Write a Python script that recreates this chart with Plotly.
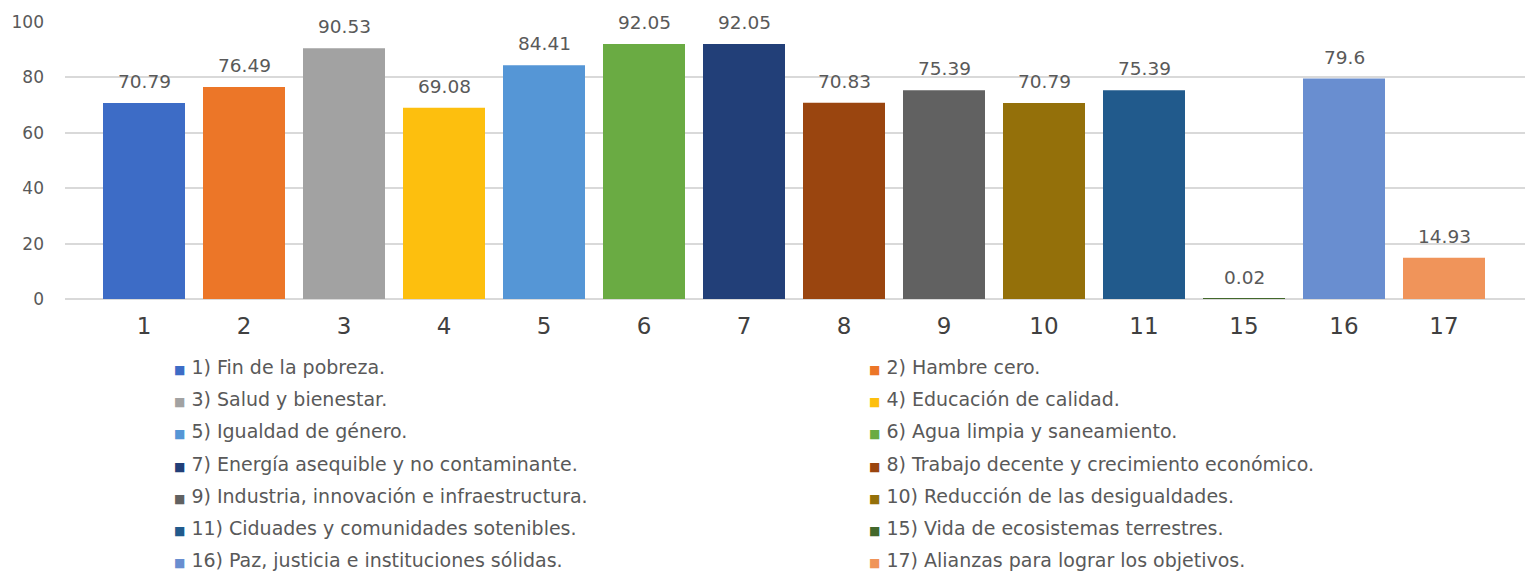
import plotly.graph_objects as go

categories = ["1", "2", "3", "4", "5", "6", "7", "8", "9", "10", "11", "15", "16", "17"]
values = [70.79, 76.49, 90.53, 69.08, 84.41, 92.05, 92.05, 70.83, 75.39, 70.79, 75.39, 0.02, 79.6, 14.93]
legend_labels = [
    "1) Fin de la pobreza.",
    "2) Hambre cero.",
    "3) Salud y bienestar.",
    "4) Educación de calidad.",
    "5) Igualdad de género.",
    "6) Agua limpia y saneamiento.",
    "7) Energía asequible y no contaminante.",
    "8) Trabajo decente y crecimiento económico.",
    "9) Industria, innovación e infraestructura.",
    "10) Reducción de las desigualdades.",
    "11) Ciduades y comunidades sotenibles.",
    "15) Vida de ecosistemas terrestres.",
    "16) Paz, justicia e instituciones sólidas.",
    "17) Alianzas para lograr los objetivos.",
]
colors = ["#3d6cc6", "#ec7628", "#a2a2a2", "#fdbf0e", "#5596d6", "#6aab43",
          "#223f78", "#9a450f", "#616161", "#94700a", "#215a8c", "#43682B",
          "#698ed0", "#f0945a"]

W, H = 1533, 572
ml, mr, mt, mb = 65, 8, 22, 273
pw, ph = W - ml - mr, H - mt - mb

fig = go.Figure()
fig.add_trace(go.Bar(
    x=categories, y=values, marker=dict(color=colors, line=dict(width=0)),
    width=0.82, showlegend=False, hoverinfo="x+y",
))

text_color = "#595959"
font = "DejaVu Sans, Liberation Sans, Arial, sans-serif"
annotations = []
for i, v in enumerate(values):
    annotations.append(dict(x=i, y=v, xref="x", yref="y", text=f"{v:g}",
                            showarrow=False, yanchor="bottom", yshift=9,
                            font=dict(size=18.5, color=text_color, family=font)))

def px_x(p):
    return (p - ml) / pw

def px_y(p):
    return (H - mb - p) / ph

col_x = [172, 867]
row0, row_step = 367, 32.2
for i, (lab, col) in enumerate(zip(legend_labels, colors)):
    r, c = divmod(i, 2)
    annotations.append(dict(
        x=px_x(col_x[c]), y=px_y(row0 + r * row_step), xref="paper", yref="paper",
        xanchor="left", yanchor="middle", showarrow=False,
        text=f"<span style='color:{col};font-size:12px'>■</span> {lab}",
        font=dict(size=19, color=text_color, family=font),
    ))

fig.update_layout(
    width=W, height=H,
    margin=dict(l=ml, r=mr, t=mt, b=mb),
    paper_bgcolor="white", plot_bgcolor="white",
    annotations=annotations,
    font=dict(family=font, color=text_color),
    xaxis=dict(type="category", range=[-0.79, 13.81], showgrid=False,
               showline=False, ticks="", tickfont=dict(size=23, color="#404040"),
               ticklabelstandoff=11),
    yaxis=dict(range=[0, 100], tickvals=[0, 20, 40, 60, 80, 100],
               showgrid=True, gridcolor="#d9d9d9", gridwidth=1.5,
               zeroline=True, zerolinecolor="#d9d9d9", zerolinewidth=1.5,
               showline=False, ticks="", tickfont=dict(size=17, color=text_color),
               ticklabelstandoff=20),
)

fig.write_html("out.html", config={"displayModeBar": False},
               post_script="document.body.style.margin='0';document.body.style.overflow='hidden';")
